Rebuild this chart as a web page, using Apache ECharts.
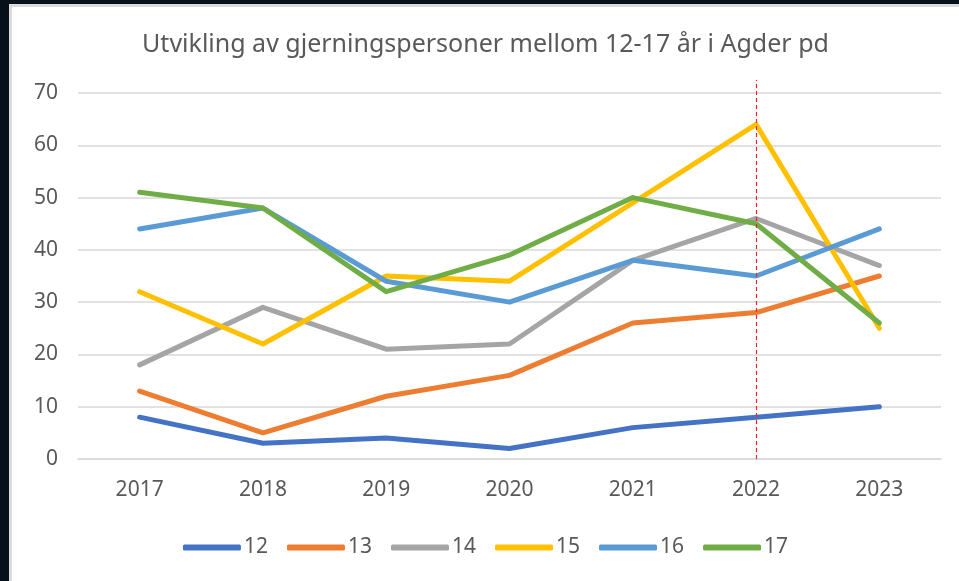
<!DOCTYPE html>
<html>
<head>
	<meta charset="UTF-8">
	<title>Utvikling av gjerningspersoner</title>
	<script type="text/javascript" src="https://cdn.jsdelivr.net/npm/echarts@6/dist/echarts.min.js"></script>
	<style>
		html,body{
			margin:0;
			padding:0;
			width:959px;
			height:581px;
			background:#06101a;
			overflow:hidden;
		}
		#frame{
			position:absolute;
			left:9px;
			top:4px;
			right:0;
			bottom:0;
			background:#fff;
			border-left:3px solid #dadada;
			border-top:3px solid #dadada;
		}
		#chart{
			width:947px;
			height:574px;
		}
	</style>
</head>
<body>
<div id="frame">
	<div id="chart"></div>
</div>
<script>
	// data
	var years = ['2017','2018','2019','2020','2021','2022','2023'];
	var names = ['12','13','14','15','16','17'];
	var age12 = [8, 3, 4, 2, 6, 8, 10];
	var age13 = [13, 5, 12, 16, 26, 28, 35];
	var age14 = [18, 29, 21, 22, 38, 46, 37];
	var age15 = [32, 22, 35, 34, 49, 64, 25];
	var age16 = [44, 48, 34, 30, 38, 35, 44];
	var age17 = [51, 48, 32, 39, 50, 45, 26];
	var colors = ['#4472C4', '#ED7D31', '#A5A5A5', '#FFC000', '#5B9BD5', '#70AD47'];
	var markYear = '2022';
	var markTop = 72.5;		// red line goes a bit above the 70 gridline

	var myChart = echarts.init(document.getElementById('chart'));
	var font = 'Noto Sans, sans-serif';
	var allData = [age12, age13, age14, age15, age16, age17];

	var series = [];
	for (var i = 0; i < names.length; i++) {
		series.push({
			name: names[i],
			type: 'line',
			data: allData[i],
			symbol: 'none',
			clip: false,
			lineStyle: { width: 5, color: colors[i], cap: 'round', join: 'round' },
			itemStyle: { color: colors[i] }
		});
	}

	var option = {
		animation: false,
		color: colors,
		title: {
			text: 'Utvikling av gjerningspersoner mellom 12-17 år i Agder pd',
			left: 'center',
			top: 20,
			textStyle: { fontFamily: font, fontSize: 25, fontWeight: 'normal', color: '#595959' }
		},
		legend: {
			data: names,
			left: 'center',
			top: 525,
			icon: 'roundRect',
			itemWidth: 58,
			itemHeight: 6,
			itemGap: 19,
			textStyle: { fontFamily: font, fontSize: 21, color: '#595959', padding: [0, 0, 0, -2] }
		},
		grid: {
			left: 66,
			top: 86,
			width: 863,
			height: 366
		},
		xAxis: {
			type: 'category',
			data: years,
			boundaryGap: true,
			axisLine: { lineStyle: { color: '#d9d9d9', width: 1.5 } },
			axisTick: { show: false },
			axisLabel: { fontFamily: font, fontSize: 21, color: '#595959', margin: 21 }
		},
		yAxis: {
			type: 'value',
			min: 0,
			max: 70,
			interval: 10,
			axisLine: { show: false },
			axisTick: { show: false },
			axisLabel: { fontFamily: font, fontSize: 21, color: '#595959', margin: 20 },
			splitLine: { lineStyle: { color: '#d9d9d9', width: 1.5 } }
		},
		series: series
	};

	myChart.setOption(option);

	// dashed red marker at 2022, placed through the chart's own scales
	var p0 = myChart.convertToPixel({ gridIndex: 0 }, [markYear, 0]);
	var p1 = myChart.convertToPixel({ gridIndex: 0 }, [markYear, markTop]);
	myChart.setOption({
		graphic: [{
			type: 'line',
			silent: true,
			z: 100,
			shape: { x1: Math.round(p0[0]) + 0.5, y1: p0[1], x2: Math.round(p1[0]) + 0.5, y2: p1[1] },
			style: { stroke: '#e8262b', lineWidth: 1.2, lineDash: [4, 3] }
		}]
	});
</script>
</body>
</html>
